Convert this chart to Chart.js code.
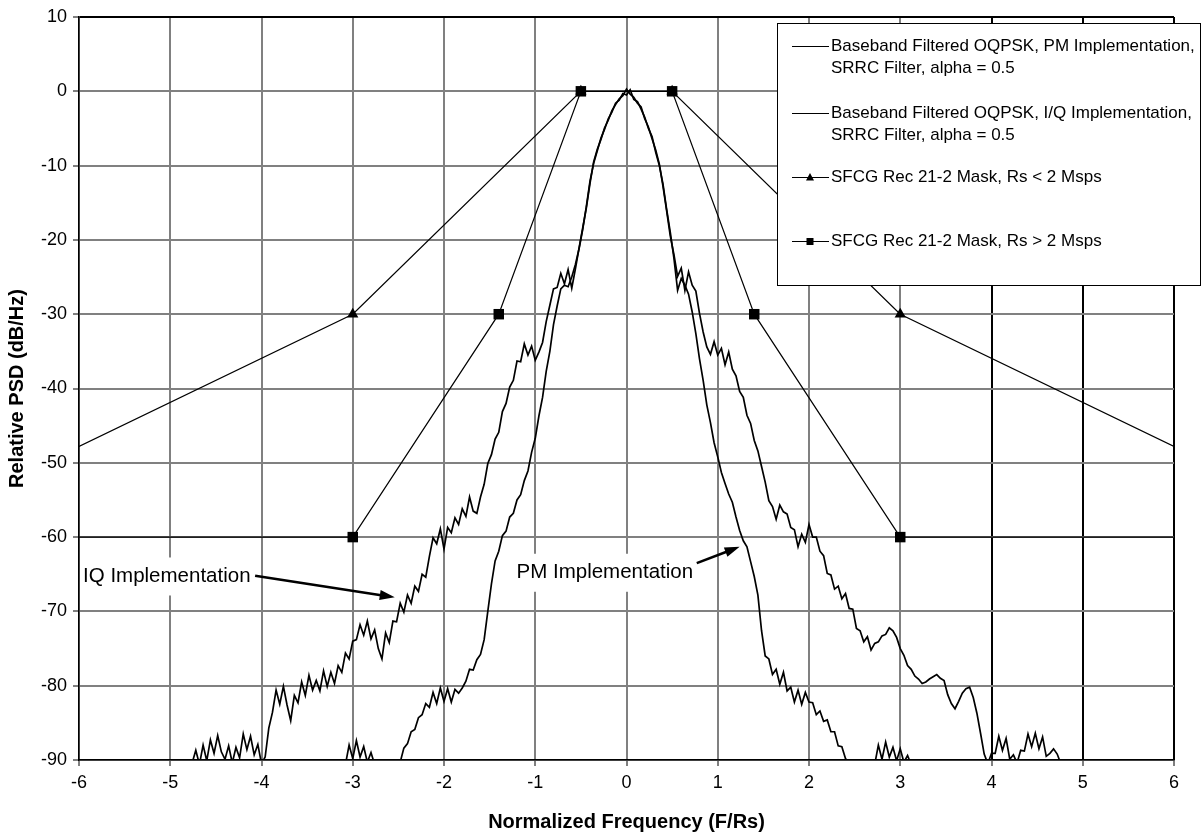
<!DOCTYPE html>
<html>
<head>
<meta charset="utf-8">
<script src="https://cdn.jsdelivr.net/npm/chart.js@4.4.1/dist/chart.umd.min.js"></script>
<style>
  html, body { margin: 0; padding: 0; background: #fff; }
  #psd { display: block; }
</style>
</head>
<body>
<canvas id="psd" width="1203" height="836"></canvas>
<script>
// Spectra are sampled on a regular F/Rs grid
const freqStart = -4.8;
const freqStep = 0.04;

// PM implementation, dB/Hz (values below -90 fall off the plot)
const pmPsd = [
  -96, -96, -96, -96, -96, -96, -96, -96, -96, -96,
  -96, -96, -96, -96, -96, -96, -96, -96, -96, -96,
  -96, -96, -96, -96, -96, -96, -96, -96, -96, -96,
  -96, -96, -96, -96, -96, -96, -96, -96, -96, -96,
  -96, -96, -95, -90.6, -88.0, -89.8, -87.4, -89.6, -88.2, -90.3,
  -89.0, -90.6, -95, -96, -96, -96, -95, -92, -90.3, -88.4,
  -87.8, -86.2, -85.9, -84.3, -83.9, -82.4, -82.9, -80.9, -82.4, -80.3,
  -82.1, -80.4, -82.2, -80.5, -81.0, -80.3, -79.4, -77.8, -77.9, -76.5,
  -75.8, -73.8, -70.0, -66.3, -63.2, -61.9, -59.8, -59.2, -57.3, -56.8,
  -55.0, -54.3, -52.4, -51.1, -48.6, -46.7, -43.7, -41.2, -37.7, -35.0,
  -31.4, -28.9, -26.6, -26.1, -26.3, -25.0, -23.3, -21.2, -18.6, -15.5,
  -12.1, -9.7, -8.0, -6.3, -5.1, -3.7, -2.8, -1.6, -1.2, -0.3,
  -0.5,
  0.2, -1.1, -1.4, -2.4, -3.5, -5.0, -6.1, -8.2, -10.0, -12.5,
  -15.9, -19.0, -22.5, -26.8, -25.2, -26.1, -27.3, -29.7, -32.6, -36.0,
  -38.9, -42.2, -44.6, -47.3, -49.2, -51.3, -52.8, -54.2, -55.3, -57.3,
  -59.1, -60.5, -61.3, -63.3, -65.3, -67.8, -72.6, -76.0, -76.4, -78.5,
  -77.8, -79.8, -78.2, -80.7, -80.2, -82.2, -80.6, -82.5, -80.9, -82.2,
  -82.3, -83.9, -83.4, -84.8, -84.6, -86.2, -86.2, -88.1, -88.2, -89.8,
  -90.5, -95, -96, -96, -96, -96, -95, -90.6, -88.0, -89.9,
  -87.6, -89.6, -88.3, -90.1, -88.5, -90.3, -89.4, -90.6, -95, -96,
  -96, -96, -96, -96, -96, -96, -96, -96, -96, -96,
  -96, -96, -96, -96, -96, -96, -96, -96, -96, -96,
  -96, -96, -96, -96, -96, -96, -96, -96, -96, -96,
  -96, -96, -96, -96, -96, -96, -96, -96, -96, -96
];

// I/Q implementation, dB/Hz
const iqPsd = [
  -96, -90.4, -88.7, -90.6, -88.0, -90.1, -87.3, -89.1, -86.7, -88.9,
  -89.9, -88.1, -90.4, -88.3, -89.7, -86.5, -88.6, -86.8, -89.3, -87.9,
  -90.5, -89.6, -85.7, -83.6, -80.6, -82.5, -80.1, -82.6, -84.7, -81.3,
  -82.3, -79.5, -81.3, -78.6, -80.6, -79.3, -80.7, -78.0, -80.1, -78.2,
  -79.7, -77.3, -78.2, -75.6, -76.4, -74.0, -73.8, -71.8, -73.2, -71.3,
  -73.7, -72.5, -75.0, -76.4, -72.9, -74.2, -71.3, -71.4, -68.9, -70.1,
  -67.8, -68.9, -66.6, -67.3, -65.0, -65.4, -62.6, -60.1, -60.9, -58.9,
  -61.6, -58.7, -59.4, -57.4, -58.3, -56.2, -57.2, -54.6, -56.5, -56.8,
  -54.6, -52.9, -50.1, -48.9, -46.8, -45.9, -43.1, -42.0, -39.8, -38.9,
  -36.3, -36.4, -34.0, -35.5, -34.3, -36.2, -35.1, -33.8, -31.0, -28.8,
  -26.6, -26.4, -24.5, -25.9, -24.0, -26.5, -23.9, -21.1, -18.4, -15.7,
  -12.4, -9.5, -7.8, -6.5, -4.9, -3.9, -2.6, -1.8, -1.0, -0.6,
  0.3,
  -0.4, -0.8, -1.6, -2.1, -3.7, -4.8, -6.4, -7.9, -9.8, -12.8,
  -16.1, -19.5, -22.0, -24.9, -23.8, -26.8, -24.3, -26.1, -26.9, -29.9,
  -32.4, -34.4, -35.4, -33.7, -35.5, -34.6, -36.8, -35.1, -37.4, -38.3,
  -40.4, -41.2, -43.6, -44.7, -47.0, -48.4, -50.5, -52.6, -55.1, -55.9,
  -57.6, -55.7, -56.6, -56.9, -58.7, -59.0, -61.3, -59.6, -60.7, -58.3,
  -60.0, -60.0, -61.9, -62.5, -64.9, -65.1, -67.0, -66.6, -68.3, -67.6,
  -69.6, -69.7, -72.3, -72.6, -74.1, -73.4, -75.2, -74.3, -74.1, -73.3,
  -73.1, -72.2, -72.6, -73.5, -75.0, -75.9, -77.3, -77.8, -78.7, -79.1,
  -79.7, -79.5, -79.1, -78.8, -78.5, -79.0, -79.3, -81.2, -82.4, -83.1,
  -82.1, -81.0, -80.4, -80.2, -81.6, -83.7, -86.4, -89.2, -90.5, -89.1,
  -89.1, -86.8, -88.7, -87.1, -89.9, -89.3, -90.4, -88.7, -88.8, -86.5,
  -88.2, -86.4, -88.5, -86.9, -89.5, -89.1, -88.5, -89.2, -90.5, -96
];

// SFCG Rec 21-2 masks
const maskLowFreq = [-6, -3, -0.5, 0.5, 3, 6];
const maskLowPsd = [-47.8, -30, 0, 0, -30, -47.8];
const maskHighFreq = [-6, -3, -1.4, -0.5, 0.5, 1.4, 3, 6];
const maskHighPsd = [-60, -60, -30, 0, 0, -30, -60, -60];

const legendText = [
    ['Baseband Filtered OQPSK, PM Implementation,', 'SRRC Filter, alpha = 0.5'],
    ['Baseband Filtered OQPSK, I/Q Implementation,', 'SRRC Filter, alpha = 0.5'],
    ['SFCG Rec 21-2 Mask, Rs < 2 Msps'],
    ['SFCG Rec 21-2 Mask, Rs > 2 Msps'],
];

// callouts: label anchored at its right end, arrow from -> to (data units)
const callouts = [
    { text: 'IQ Implementation', at: [-4.12, -65.3], from: [-4.07, -65.2], to: [-2.54, -68.1] },
    { text: 'PM Implementation', at: [0.73, -64.8], from: [0.77, -63.5], to: [1.24, -61.3] },
];

const FONT = '"Liberation Sans", Arial, sans-serif';
const GRID_GREY = '#808080';

function gridPoints(values) {
    return values.map((v, i) => ({ x: +(freqStart + i * freqStep).toFixed(2), y: v }));
}

function pairPoints(xs, ys) {
    return xs.map((x, i) => ({ x: x, y: ys[i] }));
}

function endsHidden(n, r) {
    return Array.from({ length: n }, (_, i) => (i === 0 || i === n - 1) ? 0 : r);
}

function drawArrow(ctx, x1, y1, x2, y2) {
    const ang = Math.atan2(y2 - y1, x2 - x1);
    const head = 15, half = 5;
    const c = Math.cos(ang), s = Math.sin(ang);
    ctx.lineWidth = 2.6;
    ctx.beginPath();
    ctx.moveTo(x1, y1);
    ctx.lineTo(x2 - c * head * 0.7, y2 - s * head * 0.7);
    ctx.stroke();
    ctx.beginPath();
    ctx.moveTo(x2, y2);
    ctx.lineTo(x2 - c * head + s * half, y2 - s * head - c * half);
    ctx.lineTo(x2 - c * head - s * half, y2 - s * head + c * half);
    ctx.closePath();
    ctx.fill();
}

const calloutPlugin = {
    id: 'callouts',
    afterDatasetsDraw(chart) {
        const { ctx, chartArea, scales: { x, y } } = chart;
        ctx.save();
        ctx.font = '20.5px ' + FONT;
        ctx.textBaseline = 'middle';
        ctx.fillStyle = '#000';
        ctx.strokeStyle = '#000';
        callouts.forEach(c => {
            const right = x.getPixelForValue(c.at[0]);
            const cy = y.getPixelForValue(c.at[1]);
            const w = ctx.measureText(c.text).width;
            const boxL = Math.max(chartArea.left + 1, right - w - 4);
            ctx.fillStyle = '#fff';
            ctx.fillRect(boxL, cy - 19, right + 4 - boxL, 38);
            ctx.fillStyle = '#000';
            ctx.textAlign = 'right';
            ctx.fillText(c.text, right, cy);
            drawArrow(ctx,
                x.getPixelForValue(c.from[0]), y.getPixelForValue(c.from[1]),
                x.getPixelForValue(c.to[0]), y.getPixelForValue(c.to[1]));
        });
        ctx.restore();
    }
};

const legendPlugin = {
    id: 'boxLegend',
    afterDraw(chart) {
        const ctx = chart.ctx;
        const box = { left: 777, top: 23, right: 1200, bottom: 285 };
        const rowY = [46, 113, 177, 241];
        const lineGap = 22;
        ctx.save();
        ctx.fillStyle = '#fff';
        ctx.fillRect(box.left, box.top, box.right - box.left, box.bottom - box.top);
        ctx.strokeStyle = '#000';
        ctx.lineWidth = 1;
        ctx.strokeRect(box.left + 0.5, box.top + 0.5, box.right - box.left, box.bottom - box.top);
        ctx.font = '17px ' + FONT;
        ctx.textBaseline = 'middle';
        ctx.textAlign = 'left';
        ctx.fillStyle = '#000';
        legendText.forEach((lines, i) => {
            const yy = rowY[i];
            ctx.beginPath();
            ctx.moveTo(792, yy + 0.5);
            ctx.lineTo(829, yy + 0.5);
            ctx.stroke();
            if (i === 2) {
                ctx.beginPath();
                ctx.moveTo(810, yy - 4);
                ctx.lineTo(814, yy + 3.5);
                ctx.lineTo(806, yy + 3.5);
                ctx.closePath();
                ctx.fill();
            } else if (i === 3) {
                ctx.fillRect(806.5, yy - 3, 7, 7);
            }
            lines.forEach((t, j) => ctx.fillText(t, 831, yy + j * lineGap));
        });
        ctx.restore();
    }
};

new Chart(document.getElementById('psd'), {
    type: 'scatter',
    data: {
        datasets: [
            {
                label: legendText[0].join(' '),
                data: gridPoints(pmPsd),
                showLine: true,
                borderColor: '#000',
                borderWidth: 1.7,
                pointRadius: 0,
            },
            {
                label: legendText[1].join(' '),
                data: gridPoints(iqPsd),
                showLine: true,
                borderColor: '#000',
                borderWidth: 1.7,
                pointRadius: 0,
            },
            {
                label: legendText[2][0],
                data: pairPoints(maskLowFreq, maskLowPsd),
                showLine: true,
                borderColor: '#000',
                borderWidth: 1.2,
                backgroundColor: '#000',
                pointStyle: 'triangle',
                pointRadius: endsHidden(maskLowFreq.length, 6.5),
                pointBorderWidth: 0,
            },
            {
                label: legendText[3][0],
                data: pairPoints(maskHighFreq, maskHighPsd),
                showLine: true,
                borderColor: '#000',
                borderWidth: 1.2,
                backgroundColor: '#000',
                pointStyle: 'rect',
                pointRadius: endsHidden(maskHighFreq.length, 7.4),
                pointBorderWidth: 0,
            },
        ],
    },
    options: {
        responsive: false,
        animation: false,
        devicePixelRatio: 1,
        layout: { padding: { top: 17, right: 29, left: 0, bottom: 0 } },
        plugins: {
            legend: { display: false },
            tooltip: { enabled: false },
        },
        scales: {
            x: {
                type: 'linear',
                min: -6,
                max: 6,
                afterFit(scale) { scale.height = 76; },
                ticks: {
                    stepSize: 1,
                    color: '#000',
                    font: { family: FONT, size: 18 },
                    padding: 6,
                },
                grid: {
                    color: c => (c.tick && c.tick.value >= 4) ? '#000' : GRID_GREY,
                    lineWidth: 2,
                    tickColor: '#000',
                    tickLength: 6,
                    tickWidth: 1,
                },
                border: { color: '#000', width: 1.5 },
                title: {
                    display: true,
                    text: 'Normalized Frequency (F/Rs)',
                    color: '#000',
                    font: { family: FONT, size: 20, weight: 'bold' },
                    padding: { top: 0, bottom: 2 },
                },
            },
            y: {
                min: -90,
                max: 10,
                afterFit(scale) { scale.width = 79; },
                ticks: {
                    stepSize: 10,
                    color: '#000',
                    font: { family: FONT, size: 18 },
                    padding: 6,
                },
                grid: {
                    color: c => (c.tick && c.tick.value === 10) ? '#000' : GRID_GREY,
                    lineWidth: 2,
                    tickColor: '#000',
                    tickLength: 6,
                    tickWidth: 1,
                },
                border: { color: '#000', width: 1.5 },
                title: {
                    display: true,
                    text: 'Relative PSD (dB/Hz)',
                    color: '#000',
                    font: { family: FONT, size: 20, weight: 'bold' },
                    padding: { top: 5, bottom: 0 },
                },
            },
        },
    },
    plugins: [calloutPlugin, legendPlugin],
});
</script>
</body>
</html>
